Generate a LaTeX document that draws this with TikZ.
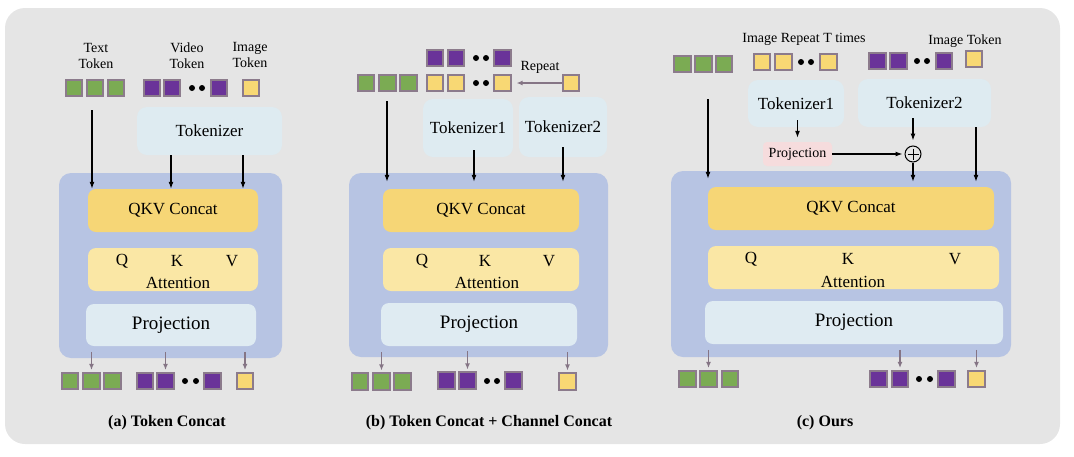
\documentclass[tikz,border=0pt]{standalone}
\usepackage{fontspec}
\setmainfont{Liberation Serif}
\newfontfamily\timesfont{Liberation Serif}
\usetikzlibrary{arrows.meta}

\definecolor{bgcol}{HTML}{E5E5E5}
\definecolor{blockcol}{HTML}{B7C4E3}
\definecolor{qkvcol}{HTML}{F6D676}
\definecolor{attcol}{HTML}{FAE7A5}
\definecolor{projcol}{HTML}{DFEBF2}
\definecolor{tokzcol}{HTML}{DEEBF1}
\definecolor{pinkcol}{HTML}{F6DCDD}
\definecolor{greentok}{HTML}{7BAB53}
\definecolor{purpletok}{HTML}{6A3399}
\definecolor{yellowtok}{HTML}{F8D874}
\definecolor{tokedge}{HTML}{8C7B8C}
\definecolor{outgray}{HTML}{857585}

\tikzset{
  box/.style={rounded corners=8pt, inner sep=0pt},
  sq/.style={draw=tokedge, line width=1.6pt, minimum size=16.5pt, inner sep=0pt},
  gtok/.style={sq, fill=greentok},
  ptok/.style={sq, fill=purpletok},
  ytok/.style={sq, fill=yellowtok},
  blob/.style={circle, fill=black, inner sep=0pt, minimum size=6pt},
  inarrow/.style={-{Latex[length=7pt,width=5pt]}, line width=1.2pt},
  outarrow/.style={-{Latex[length=6pt,width=5pt]}, draw=outgray, line width=1.4pt},
  txtsmall/.style={font=\timesfont\fontsize{14}{16}\selectfont},
  txtmid/.style={font=\timesfont\fontsize{17}{20}\selectfont},
  txtbig/.style={font=\timesfont\fontsize{19}{22}\selectfont},
  txtcap/.style={font=\timesfont\fontsize{16}{19}\selectfont\bfseries},
}

\begin{document}
\begin{tikzpicture}[x=1pt, y=-1pt]
\useasboundingbox (0,0) rectangle (1074,456);
\fill[bgcol, rounded corners=20pt] (5,8) rectangle (1060,444);

% (a) token concat
\node[txtsmall, align=center] (labtext) at (96,56) {Text\\Token};
\node[txtsmall, align=center] (labvideo) at (187,56) {Video\\Token};
\node[txtsmall, align=center] (labimage) at (250,55) {Image\\Token};
\foreach \x [count=\i] in {74,95,116} \node[gtok] (ina-g\i) at (\x,88) {};
\foreach \x [count=\i] in {152,172,219} \node[ptok] (ina-p\i) at (\x,88) {};
\node[blob] (ina-d1) at (192,88) {};
\node[blob] (ina-d2) at (202,88) {};
\node[ytok] (ina-y) at (251,88) {};
\node[box, rounded corners=10pt, fill=tokzcol, minimum width=145pt, minimum height=48pt, txtmid] (tokza) at (209.5,131) {Tokenizer};
\node[box, rounded corners=12pt, fill=blockcol, minimum width=223pt, minimum height=185pt] (blocka) at (170.5,265.5) {};
\node[box, fill=qkvcol, minimum width=170pt, minimum height=43pt, txtmid] (qkva) at (173,210.5) {QKV Concat};
\node[box, fill=attcol, minimum width=170pt, minimum height=43pt] (atta) at (173,269.5) {};
\node[txtmid] (qa) at (122,261) {Q};
\node[txtmid] (ka) at (177,261) {K};
\node[txtmid] (va) at (232,261) {V};
\node[txtmid] (attlaba) at (178,283) {Attention};
\node[box, fill=projcol, minimum width=170pt, minimum height=42pt, txtbig] (proja) at (171,325) {Projection};
\coordinate (starta) at (92,110);
\draw[inarrow] (starta) -- (starta |- qkva.north);
\draw[inarrow] (tokza.south -| 171,0) -- (qkva.north -| 171,0);
\draw[inarrow] (tokza.south -| 243,0) -- (qkva.north -| 243,0);
\foreach \x [count=\i] in {70,91.5,112.5} \node[gtok] (outa-g\i) at (\x,381) {};
\foreach \x [count=\i] in {145,165.5,212.5} \node[ptok] (outa-p\i) at (\x,381) {};
\node[blob] (outa-d1) at (185,381) {};
\node[blob] (outa-d2) at (196,381) {};
\node[ytok] (outa-y) at (245,381) {};
\foreach \t in {outa-g2,outa-p2,outa-y}
  \draw[outarrow] ([yshift=20pt]\t.north) -- ([yshift=2pt]\t.north);
\node[txtcap] (capa) at (167,423) {(a) Token Concat};

% (b) token concat + channel concat
\foreach \x [count=\i] in {435,456,502.5} \node[ptok] (inb-p\i) at (\x,58) {};
\node[blob] (inb-d1) at (476,58) {};
\node[blob] (inb-d2) at (486,58) {};
\foreach \x [count=\i] in {435,456,502.5} \node[ytok] (inb-y\i) at (\x,83) {};
\node[blob] (inb-d3) at (476,83) {};
\node[blob] (inb-d4) at (486,83) {};
\foreach \x [count=\i] in {366,387.5,408.5} \node[gtok] (inb-g\i) at (\x,83) {};
\node[ytok] (inb-y) at (571,83) {};
\draw[outarrow] (inb-y.west) -- ([xshift=5pt]inb-y3.east);
\node[txtsmall] (labrepeat) at (540,67) {Repeat};
\node[box, rounded corners=10pt, fill=tokzcol, minimum width=90pt, minimum height=58pt, txtmid] (tokzb1) at (468,128) {Tokenizer1};
\node[box, rounded corners=10pt, fill=tokzcol, minimum width=88pt, minimum height=60pt, txtmid] (tokzb2) at (563,127) {Tokenizer2};
\node[box, rounded corners=12pt, fill=blockcol, minimum width=259pt, minimum height=184pt] (blockb) at (478.5,265) {};
\node[box, fill=qkvcol, minimum width=196pt, minimum height=43pt, txtmid] (qkvb) at (481,210.5) {QKV Concat};
\node[box, fill=attcol, minimum width=196pt, minimum height=43pt] (attb) at (481,269.5) {};
\node[txtmid] (qb) at (422,261) {Q};
\node[txtmid] (kb) at (485,261) {K};
\node[txtmid] (vb) at (549,261) {V};
\node[txtmid] (attlabb) at (487,283) {Attention};
\node[box, fill=projcol, minimum width=196pt, minimum height=43pt, txtbig] (projb) at (479,324.5) {Projection};
\coordinate (startb) at (387,101);
\draw[inarrow, shorten >=7pt] (startb) -- (startb |- qkvb.north);
\draw[inarrow, shorten >=7pt] ([yshift=7pt]tokzb1.south -| 474,0) -- (qkvb.north -| 474,0);
\draw[inarrow, shorten >=7pt] ([yshift=10pt]tokzb2.south) -- (qkvb.north -| tokzb2.south);
\foreach \x [count=\i] in {360,381.5,402.5} \node[gtok] (outb-g\i) at (\x,381.5) {};
\foreach \x [count=\i] in {446.5,467.5,513.5} \node[ptok] (outb-p\i) at (\x,380.5) {};
\node[blob] (outb-d1) at (487,381) {};
\node[blob] (outb-d2) at (497,381) {};
\node[ytok] (outb-y) at (567.5,381.5) {};
\foreach \t in {outb-g2,outb-p2,outb-y}
  \draw[outarrow] ([yshift=20pt]\t.north) -- ([yshift=2pt]\t.north);
\node[txtcap] (capb) at (489,423) {(b) Token Concat + Channel Concat};

% (c) ours
\foreach \x [count=\i] in {682.5,703.5,724} \node[gtok] (inc-g\i) at (\x,64) {};
\node[txtsmall] (labrep) at (804,39) {Image Repeat T times};
\foreach \x [count=\i] in {762,783.5,828.5} \node[ytok] (inc-y\i) at (\x,62) {};
\node[blob] (inc-d1) at (801,62) {};
\node[blob] (inc-d2) at (811,62) {};
\foreach \x [count=\i] in {877.5,898.5,944} \node[ptok] (inc-p\i) at (\x,61) {};
\node[blob] (inc-d3) at (917,61) {};
\node[blob] (inc-d4) at (927,61) {};
\node[ytok] (inc-y) at (974,59) {};
\node[txtsmall] (labimg) at (965,41) {Image Token};
\node[box, rounded corners=10pt, fill=tokzcol, minimum width=96pt, minimum height=47pt, txtmid] (tokzc1) at (796,103.5) {Tokenizer1};
\node[box, rounded corners=10pt, fill=tokzcol, minimum width=133pt, minimum height=48pt, txtmid] (tokzc2) at (924.5,103) {Tokenizer2};
\node[box, rounded corners=4pt, fill=pinkcol, minimum width=69pt, minimum height=24pt, txtsmall] (projsmall) at (797.5,154) {Projection};
\node[circle, draw=black, line width=1pt, minimum size=16pt, inner sep=0pt] (plus) at (913,154) {};
\draw[line width=1pt] ([yshift=-3pt]plus.north) -- ([yshift=3pt]plus.south) ([xshift=3pt]plus.west) -- ([xshift=-3pt]plus.east);
\node[box, rounded corners=12pt, fill=blockcol, minimum width=340pt, minimum height=186pt] (blockc) at (841,264) {};
\node[box, fill=qkvcol, minimum width=286pt, minimum height=43pt, txtmid] (qkvc) at (851,208.5) {QKV Concat};
\node[box, fill=attcol, minimum width=291pt, minimum height=43pt] (attc) at (853.5,267.5) {};
\node[txtmid] (qc) at (751,259) {Q};
\node[txtmid] (kc) at (848,259) {K};
\node[txtmid] (vc) at (955,259) {V};
\node[txtmid] (attlabc) at (853,282) {Attention};
\node[box, fill=projcol, minimum width=298pt, minimum height=43pt, txtbig] (projc) at (854,322.5) {Projection};
\coordinate (startc) at (708,99);
\draw[inarrow, shorten >=8pt] (startc) -- (startc |- qkvc.north);
\draw[inarrow, shorten >=4pt] ([yshift=7pt]tokzc1.south -| projsmall.north) -- (projsmall.north);
\draw[inarrow, shorten >=2pt] (projsmall.east) -- (plus.west);
\draw[inarrow, shorten >=5pt] ([yshift=9pt]tokzc2.south -| plus.north) -- (plus.north);
\draw[inarrow, shorten >=5pt] (plus.south) -- (qkvc.north -| plus.south);
\draw[inarrow, shorten >=5pt] (tokzc2.south -| 976,0) -- (qkvc.north -| 976,0);
\foreach \x [count=\i] in {687.5,708.5,730} \node[gtok] (outc-g\i) at (\x,379) {};
\foreach \x [count=\i] in {878.5,900,946.5} \node[ptok] (outc-p\i) at (\x,379) {};
\node[blob] (outc-d1) at (919,379) {};
\node[blob] (outc-d2) at (930,379) {};
\node[ytok] (outc-y) at (976.5,379) {};
\foreach \t in {outc-g2,outc-p2,outc-y}
  \draw[outarrow] ([yshift=20pt]\t.north) -- ([yshift=2pt]\t.north);
\node[txtcap] (capc) at (825,423) {(c) Ours};
\end{tikzpicture}
\end{document}
